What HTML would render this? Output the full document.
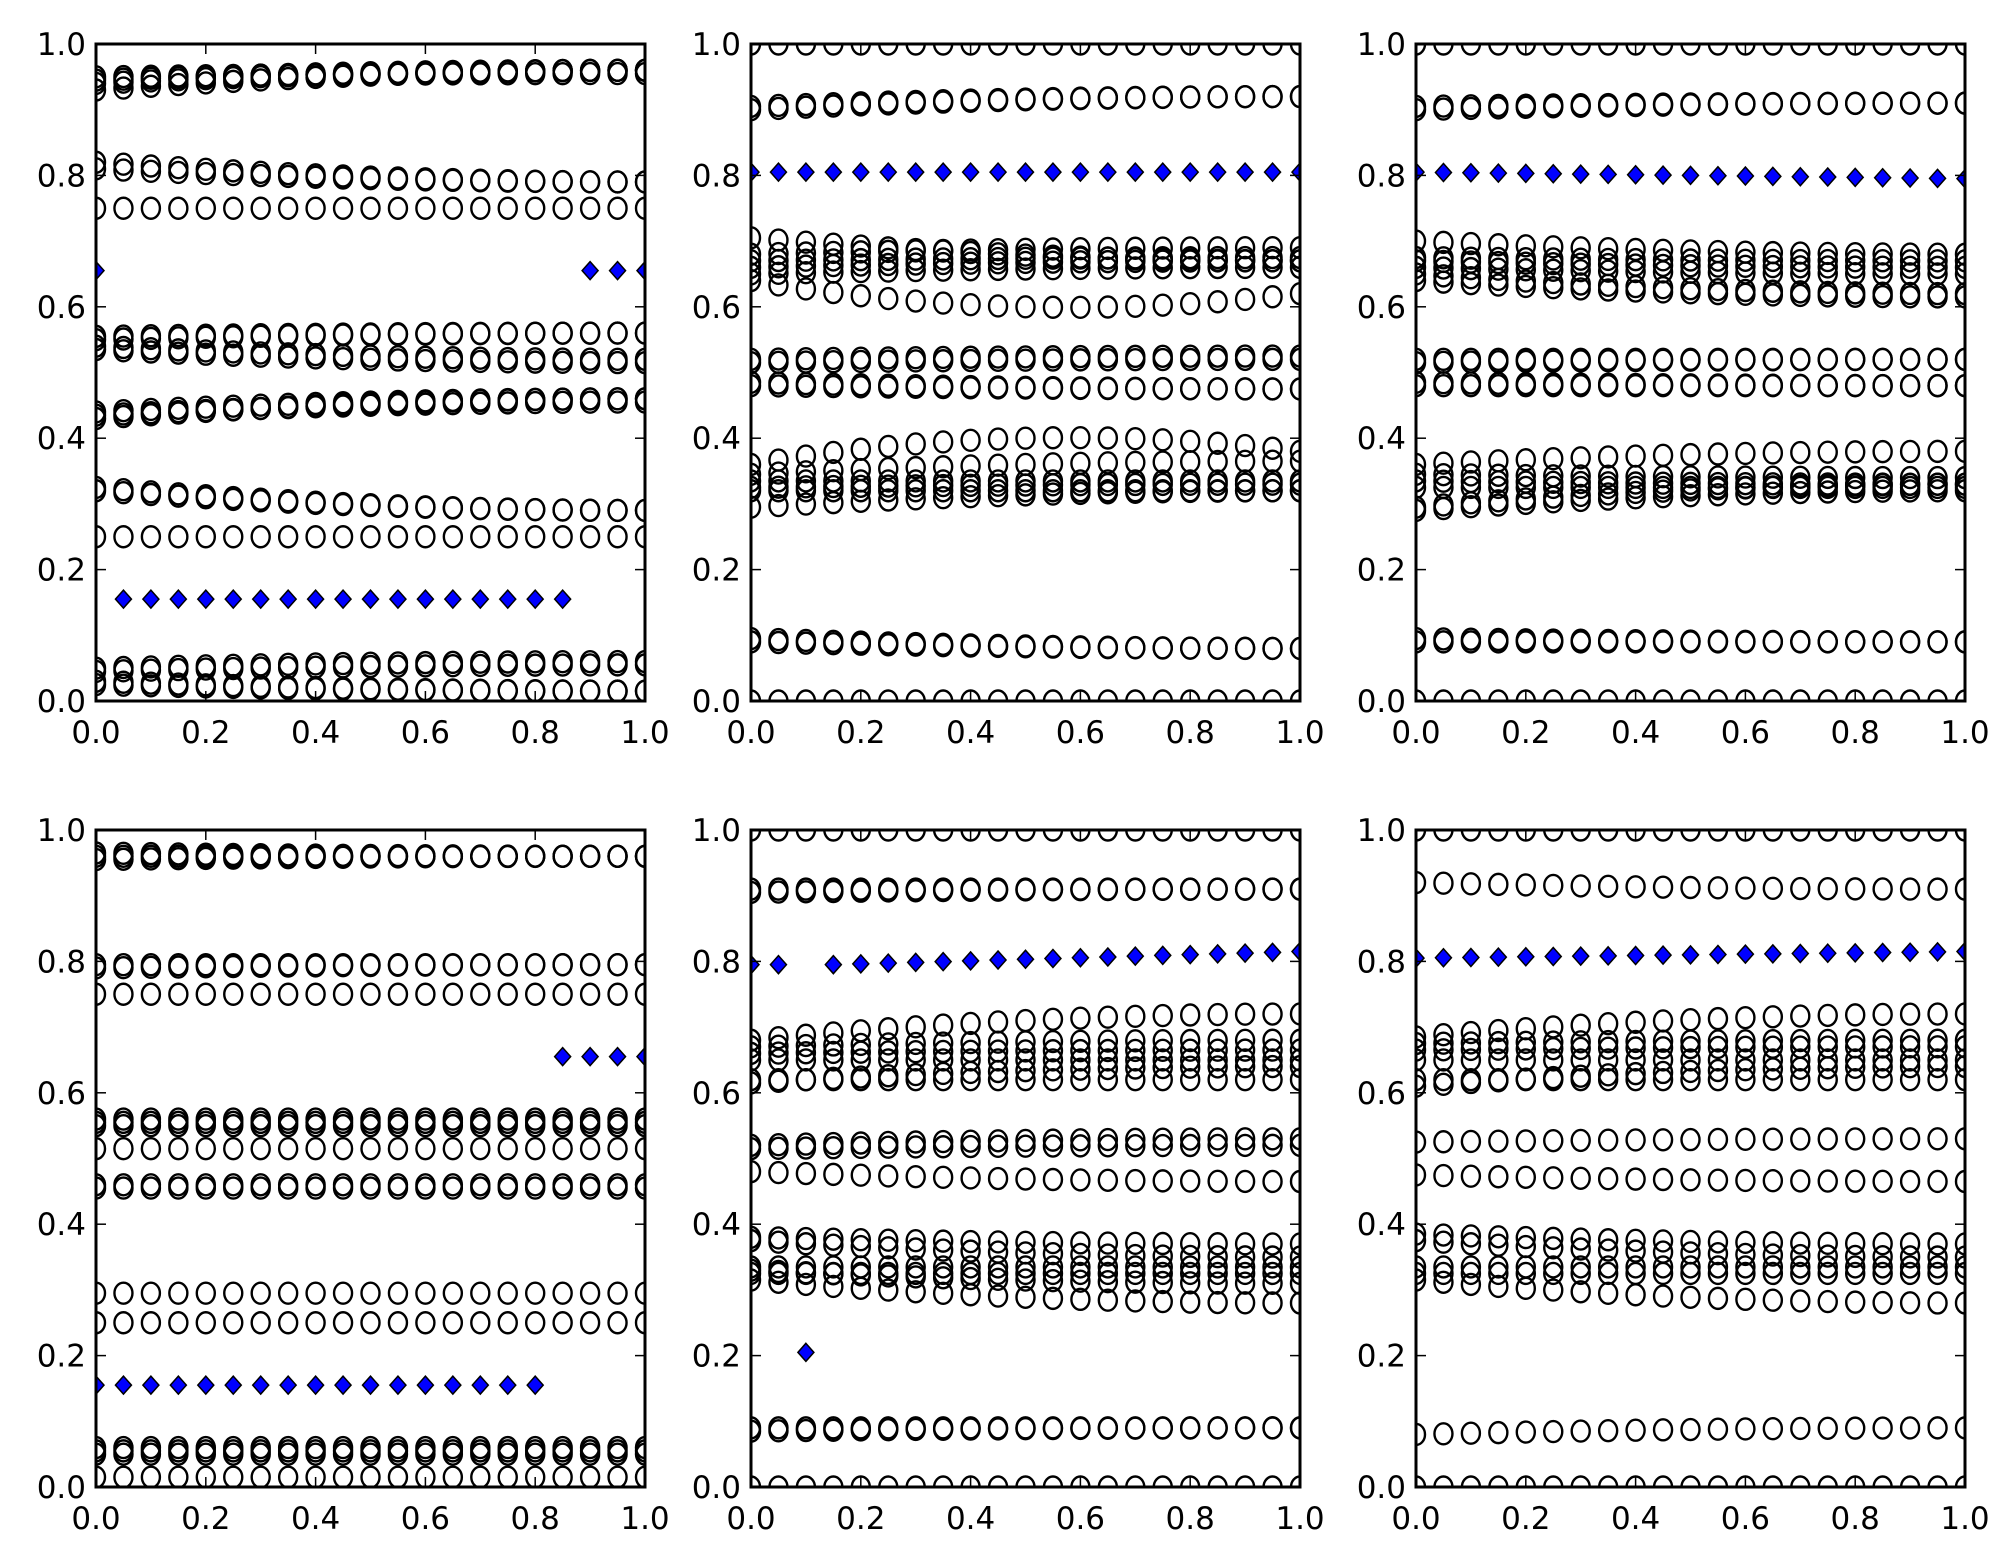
<!DOCTYPE html>
<html><head><meta charset="utf-8"><style>
html,body{margin:0;padding:0;background:#fff;}
svg{display:block}
text{font-family:"DejaVu Sans","Liberation Sans",sans-serif;font-size:31px;fill:#000}
</style></head><body>
<svg id="s" width="2004" height="1565" xmlns="http://www.w3.org/2000/svg"></svg>
<script>
var S=document.getElementById('s'),NS='http://www.w3.org/2000/svg';
function el(t,a,p){var e=document.createElementNS(NS,t);for(var k in a)e.setAttribute(k,a[k]);(p||S).appendChild(e);return e;}
var cols=[96,751,1416],rows=[44,830],W=549,H=657;
var P=[
 {c:[[0.93,0.96],[0.94,0.96],[0.945,0.96],[0.95,0.955],[0.82,0.79],[0.81,0.79],[0.75,0.75],[0.55,0.56],[0.555,0.56],[0.54,0.52],[0.535,0.515],[0.43,0.46],[0.435,0.455],[0.44,0.46],[0.325,0.29],[0.32,0.29],[0.25,0.25],[0.05,0.06],[0.045,0.055],[0.03,0.015],[0.025,0.015]],
  d:function(x){return x==0||x>=0.9?0.655:(x<=0.86?0.155:null);}},
 {c:[[1,1],[0.905,0.92],[0.9,0.92],[0.705,0.67],[0.68,0.69],[0.67,0.675],[0.66,0.67],[0.65,0.66],[0.64,0.62,0.6],[0.52,0.525],[0.515,0.52],[0.48,0.475],[0.485,0.475],[0.36,0.38,0.4],[0.345,0.365],[0.335,0.335],[0.325,0.33],[0.32,0.32],[0.295,0.32],[0.095,0.08],[0.09,0.08],[0,0]],
  d:function(x){return 0.805;}},
 {c:[[1,1],[0.905,0.91],[0.9,0.91],[0.70,0.68],[0.675,0.67],[0.67,0.66],[0.66,0.65],[0.65,0.62],[0.64,0.615],[0.52,0.52],[0.515,0.52],[0.48,0.48],[0.485,0.48],[0.36,0.38],[0.345,0.34],[0.335,0.33],[0.325,0.325],[0.295,0.33],[0.29,0.32],[0.095,0.09],[0.09,0.09],[0,0]],
  d:function(x){return 0.805-0.01*x;}},
 {c:[[0.955,0.96],[0.96,0.96],[0.965,0.96],[0.795,0.795],[0.79,0.795],[0.75,0.75],[0.56,0.56],[0.555,0.555],[0.55,0.55],[0.515,0.515],[0.46,0.46],[0.455,0.455],[0.295,0.295],[0.25,0.25],[0.06,0.06],[0.055,0.055],[0.05,0.05],[0.015,0.015]],
  d:function(x){return x<=0.81?0.155:0.655;}},
 {c:[[1,1],[0.91,0.91],[0.905,0.91],[0.68,0.72],[0.67,0.68],[0.66,0.665],[0.65,0.65],[0.62,0.62],[0.615,0.64],[0.52,0.53],[0.515,0.52],[0.48,0.465],[0.38,0.37],[0.375,0.35],[0.335,0.335],[0.325,0.325],[0.33,0.31],[0.315,0.28],[0.09,0.09],[0.085,0.09],[0,0]],
  d:function(x){if(x<0.07)return 0.795;if(Math.abs(x-0.1)<0.01)return 0.205;return 0.795+0.02*(x-0.15)/0.85;}},
 {c:[[1,1],[0.92,0.91],[0.685,0.72],[0.675,0.68],[0.665,0.67],[0.65,0.65],[0.62,0.62],[0.61,0.64],[0.525,0.53],[0.475,0.465],[0.385,0.37],[0.375,0.35],[0.335,0.335],[0.325,0.325],[0.315,0.28],[0.08,0.09],[0,0]],
  d:function(x){return 0.805+0.01*x;}}
];
P.forEach(function(p,i){
 var L=cols[i%3],T=rows[Math.floor(i/3)];
 var cp=el('clipPath',{id:'c'+i});el('rect',{x:L,y:T,width:W,height:H},cp);
 var g=el('g',{'clip-path':'url(#c'+i+')'});
 function X(x){return L+x*W;}function Y(y){return T+H-y*H;}
 p.c.forEach(function(s){
  for(var k=0;k<=20;k++){var x=k/20,y;
   if(s.length>2){var m=s[2];y=(1-x)*(1-x)*s[0]+2*x*(1-x)*(2*m-(s[0]+s[1])/2)+x*x*s[1];}
   else y=s[0]+(s[1]-s[0])*(1-Math.pow(1-x,2));
   el('ellipse',{cx:X(x),cy:Y(y),rx:9,ry:10.5,fill:'none',stroke:'#000','stroke-width':2.4},g);}
 });
 for(var k=0;k<=20;k++){var x=k/20,y=p.d(x);if(y==null)continue;
  var cx=X(x),cy=Y(y);
  el('polygon',{points:(cx)+','+(cy-9)+' '+(cx+8)+','+cy+' '+cx+','+(cy+9)+' '+(cx-8)+','+cy,fill:'#0000ff',stroke:'#000','stroke-width':1.5},g);}
 for(var t=0;t<=5;t++){var v=t/5;
  el('line',{x1:X(v),y1:T+H,x2:X(v),y2:T+H-10,stroke:'#000','stroke-width':1.5});
  el('line',{x1:X(v),y1:T,x2:X(v),y2:T+10,stroke:'#000','stroke-width':1.5});
  el('line',{x1:L,y1:Y(v),x2:L+10,y2:Y(v),stroke:'#000','stroke-width':1.5});
  el('line',{x1:L+W,y1:Y(v),x2:L+W-10,y2:Y(v),stroke:'#000','stroke-width':1.5});
  var a=el('text',{x:X(v),y:T+H+42,'text-anchor':'middle'});a.textContent=v.toFixed(1);
  var b=el('text',{x:L-10,y:Y(v)+11,'text-anchor':'end'});b.textContent=v.toFixed(1);}
 el('rect',{x:L,y:T,width:W,height:H,fill:'none',stroke:'#000','stroke-width':3});
});
</script>
</body></html>
